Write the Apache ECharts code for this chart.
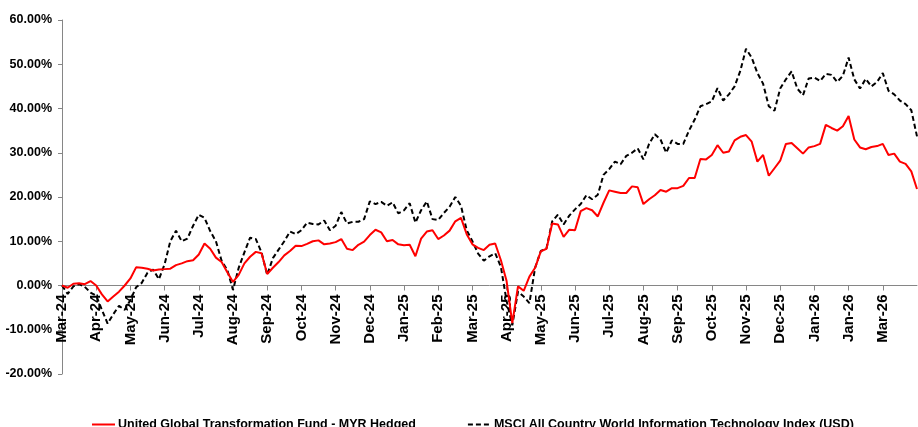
<!DOCTYPE html>
<html>
<head>
<meta charset="utf-8">
<title>UGTF vs MSCI ACWI IT</title>
<script src="https://cdn.jsdelivr.net/npm/echarts@6/dist/echarts.min.js"></script>
<style>
  html, body { margin: 0; padding: 0; background: #fff; }
  #chart { width: 918px; height: 427px; }
</style>
</head>
<body>
<div id="chart"></div>
<script>
// tick labels as printed on the axis (the second "Jan-26" is in the source too)
const tickLabels = ['Mar-24', 'Apr-24', 'May-24', 'Jun-24', 'Jul-24', 'Aug-24', 'Sep-24', 'Oct-24',
  'Nov-24', 'Dec-24', 'Jan-25', 'Feb-25', 'Mar-25', 'Apr-25', 'May-25', 'Jun-25', 'Jul-25',
  'Aug-25', 'Sep-25', 'Oct-25', 'Nov-25', 'Dec-25', 'Jan-26', 'Jan-26', 'Mar-26']
const pointsPerTick = 6

const fundName = 'United Global Transformation Fund - MYR Hedged'
const indexName = 'MSCI All Country World Information Technology Index (USD)'

// cumulative return, %
const fundReturn = [
  0, -0.5, 0.4, 0.5, 0.3, 1.0, 0.0, -2.0, -3.6, -2.5, -1.4, 0.0,
  1.6, 4.1, 4.0, 3.8, 3.4, 3.6, 3.7, 3.8, 4.6, 5.0, 5.5, 5.7,
  7.0, 9.5, 8.3, 6.3, 5.3, 3.0, 0.8, 2.4, 5.0, 6.5, 7.6, 7.3,
  2.6, 4.0, 5.3, 6.8, 7.8, 9.0, 8.9, 9.4, 10.0, 10.2, 9.3, 9.5,
  9.8, 10.5, 8.3, 8.0, 9.2, 9.9, 11.4, 12.6, 12.0, 10.0, 10.3, 9.3,
  9.1, 9.2, 6.6, 10.6, 12.2, 12.5, 10.5, 11.3, 12.4, 14.5, 15.3, 11.6,
  9.3, 8.5, 8.0, 9.2, 9.5, 5.7, 1.0, -8.5, -0.2, -1.2, 2.0, 4.0,
  7.7, 8.3, 14.0, 13.8, 11.0, 12.6, 12.5, 16.8, 17.5, 17.0, 15.6, 18.7,
  21.5, 21.2, 20.9, 20.9, 22.4, 22.2, 18.4, 19.5, 20.4, 21.6, 21.2, 22.0,
  22.0, 22.5, 24.3, 24.3, 28.6, 28.5, 29.5, 31.7, 30.0, 30.3, 32.8, 33.6,
  34.0, 32.5, 28.0, 29.5, 24.8, 26.5, 28.2, 32.0, 32.2, 31.0, 29.8, 31.2,
  31.5, 32.0, 36.3, 35.6, 35.0, 36.0, 38.3, 33.0, 31.2, 30.8, 31.3, 31.5,
  32.0, 29.5, 29.8, 28.0, 27.5, 25.8, 21.8
]
const indexReturn = [
  0, -1.9, -0.2, 0.3, -0.3, -1.6, -2.3, -5.5, -8.6, -6.5, -4.6, -5.5,
  -3.3, -0.4, 0.6, 2.9, 3.6, 1.4, 4.8, 10.0, 12.4, 10.0, 10.6, 13.5,
  16.0, 15.3, 12.3, 10.0, 5.6, 3.5, -1.0, 4.0, 7.5, 10.8, 10.5, 7.5,
  2.4, 6.2, 8.1, 10.0, 12.2, 11.6, 12.5, 14.2, 13.9, 13.8, 14.7, 12.5,
  13.5, 16.6, 14.0, 14.4, 14.4, 15.0, 19.0, 18.4, 18.9, 18.0, 18.8, 16.3,
  17.0, 18.6, 14.2, 17.0, 19.0, 15.0, 14.8, 16.4, 17.8, 20.0, 18.0, 12.5,
  10.0, 7.2, 5.6, 6.6, 7.3, 4.2, -3.5, -9.0, -1.4, -2.5, -4.0, 4.0,
  7.8, 8.4, 14.5, 16.0, 13.8, 15.8, 17.2, 18.4, 20.4, 19.5, 20.5, 25.0,
  26.3, 28.0, 27.4, 29.3, 30.0, 31.0, 28.5, 32.0, 34.2, 33.0, 30.0, 32.8,
  32.0, 32.0, 35.0, 37.5, 40.5, 41.0, 41.6, 44.6, 41.8, 43.2, 45.0, 48.5,
  53.5, 51.5, 48.0, 45.6, 40.5, 39.5, 44.5, 46.6, 48.4, 44.5, 43.0, 46.8,
  47.0, 46.2, 47.8, 47.6, 46.0, 47.4, 51.5, 46.6, 44.5, 46.7, 45.0, 46.0,
  48.0, 44.0, 43.2, 41.8, 41.0, 39.6, 33.7
]

const boldFont = "'Liberation Sans', Arial, sans-serif"
const yMin = -20
const yMax = 60

function toPairs (values) {
  return values.map((v, i) => [i, v])
}

const chart = echarts.init(document.getElementById('chart'), null, { renderer: 'canvas' })

const option = {
  animation: false,
  backgroundColor: '#fff',
  grid: { left: 62, right: 1, top: 20, bottom: 53, containLabel: false, outerBoundsMode: 'none' },
  legend: {
    left: 86,
    top: 413,
    itemWidth: 23,
    itemHeight: 10,
    itemGap: 51,
    itemStyle: { opacity: 0 },
    textStyle: { fontFamily: boldFont, fontWeight: 'bold', fontSize: 12.5, color: '#000', padding: [0, 0, 0, -2] },
    data: [fundName, indexName]
  },
  xAxis: {
    type: 'value',
    position: 'bottom',
    min: 0,
    max: fundReturn.length - 1,
    interval: pointsPerTick,
    splitLine: { show: false },
    axisLine: { onZero: false, lineStyle: { color: '#868686', width: 1 } },
    axisTick: { show: true, inside: false, length: 5, lineStyle: { color: '#868686' } },
    axisLabel: {
      rotate: 90,
      margin: 9,
      fontFamily: boldFont,
      fontWeight: 'bold',
      fontSize: 15,
      color: '#000',
      showMaxLabel: false,
      formatter: v => tickLabels[Math.round(v / pointsPerTick)] || ''
    }
  },
  yAxis: {
    type: 'value',
    min: yMin,
    max: yMax,
    interval: 10,
    splitLine: { show: false },
    axisLine: { show: true, onZero: false, lineStyle: { color: '#868686', width: 1 } },
    axisTick: { show: true, length: 4, lineStyle: { color: '#868686' } },
    axisLabel: {
      margin: 10,
      fontFamily: boldFont,
      fontWeight: 'bold',
      fontSize: 12.5,
      color: '#000',
      formatter: v => v.toFixed(2) + '%'
    }
  },
  series: [
    {
      name: fundName,
      type: 'line',
      data: toPairs(fundReturn),
      symbol: 'none',
      lineStyle: { color: '#ff0000', width: 2 },
      itemStyle: { color: '#ff0000' },
      z: 3
    },
    {
      name: indexName,
      type: 'line',
      data: toPairs(indexReturn),
      symbol: 'none',
      lineStyle: { color: '#000', width: 2, type: [5, 3] },
      itemStyle: { color: '#000' },
      z: 2
    }
  ]
}

chart.setOption(option)

// move the category axis up to the 0% line (labels and ticks with it)
const zeroY = chart.convertToPixel({ yAxisIndex: 0 }, 0)
const baseY = chart.convertToPixel({ yAxisIndex: 0 }, yMin)
chart.setOption({ xAxis: { offset: zeroY - baseY } })
</script>
</body>
</html>
